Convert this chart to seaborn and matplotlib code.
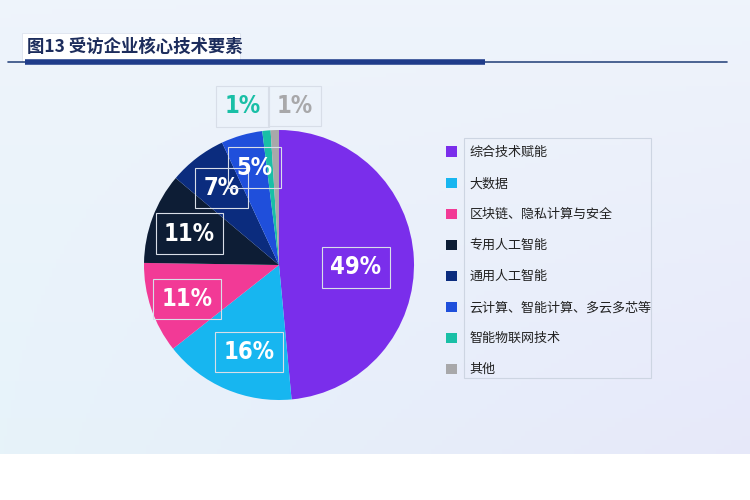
import numpy as np
import matplotlib
matplotlib.use("Agg")
import matplotlib.pyplot as plt
import matplotlib.patches as mpatches
import seaborn as sns

sns.set_theme(style="white")
plt.rcParams['font.family'] = ['Noto Sans CJK SC', 'DejaVu Sans']

categories = ["综合技术赋能", "大数据", "区块链、隐私计算与安全", "专用人工智能",
              "通用人工智能", "云计算、智能计算、多云多芯等", "智能物联网技术", "其他"]
values = [49, 16, 11, 11, 7, 5, 1, 1]
labels = ["49%", "16%", "11%", "11%", "7%", "5%", "1%", "1%"]
colors = ["#7A2EEB", "#17B6F0", "#F23A96", "#0D1D35", "#0B2C7E", "#1F4FDB", "#19BFA6", "#A8A8AA"]
title = "图13 受访企业核心技术要素"

W, H = 750, 500
fig = plt.figure(figsize=(7.5, 5), dpi=100)
fig.patch.set_facecolor("white")

# background gradient
bg = fig.add_axes([0, 46 / H, 1, 1 - 46 / H], zorder=-10)
nx, ny = 200, 100
xx = np.linspace(0, 1, nx)[None, :]
yy = np.linspace(0, 1, ny)[:, None]
top = np.array([0.935, 0.957, 0.985])
botl = np.array([0.905, 0.953, 0.980])
botr = np.array([0.905, 0.912, 0.980])
bot = botl[None, None, :] * (1 - xx[..., None]) + botr[None, None, :] * xx[..., None]
img = top[None, None, :] * (1 - yy[..., None]) + bot * yy[..., None]
bg.imshow(img, aspect="auto", extent=[0, 1, 0, 1])
bg.set_axis_off()

# title box and lines
fig.add_artist(mpatches.Rectangle((22 / W, 1 - 62 / H), 218 / W, 29 / H,
                                  transform=fig.transFigure, facecolor="white",
                                  edgecolor="#DDE3EE", lw=0.6, zorder=1))
fig.text(27 / W, 1 - 47 / H, title, fontsize=12.5, fontweight="bold",
         color="#1C2C5C", va="center", ha="left", zorder=2)
fig.add_artist(plt.Line2D([8 / W, 727 / W], [1 - 62 / H, 1 - 62 / H],
                          transform=fig.transFigure, color="#2F4A80", lw=1.2, zorder=1))
fig.add_artist(plt.Line2D([25 / W, 485 / W], [1 - 62 / H, 1 - 62 / H],
                          transform=fig.transFigure, color="#1F3C8A", lw=4, zorder=2,
                          solid_capstyle="butt"))

# pie
cx, cy, r = 279, 265, 135
ax = fig.add_axes([(cx - r) / W, (H - cy - r) / H, 2 * r / W, 2 * r / H])
wedges, _ = ax.pie(values, colors=colors, startangle=90, counterclock=False,
                   radius=1, wedgeprops=dict(linewidth=0))
ax.set_xlim(-1, 1)
ax.set_ylim(-1, 1)
ax.set_axis_off()

num_family = ["Liberation Sans Narrow", "DejaVu Sans"]
dist = [0.57, 0.67, 0.72, 0.72, 0.72, 0.76, 1.19, 1.19]
dx = [0, 0.04, 0, 0.01, 0.01, 0.03, -0.16, 0.15]
dy = [-0.045, -0.03, -0.02, -0.02, 0, -0.01, -0.01, -0.01]
box = dict(boxstyle="square,pad=0.35", facecolor="none", edgecolor="#D8DEE8", lw=0.8)
for i, (w, lab) in enumerate(zip(wedges, labels)):
    ang = np.deg2rad((w.theta1 + w.theta2) / 2)
    x, y = dist[i] * np.cos(ang) + dx[i], dist[i] * np.sin(ang) + dy[i]
    col = "white" if i < 6 else colors[i]
    ax.text(x, y, lab, fontsize=17, fontweight="bold", color=col, ha="center", va="center",
            family=num_family, fontstretch="condensed", bbox=box, clip_on=False)

# legend
fig.add_artist(mpatches.Rectangle((464 / W, 1 - 378 / H), 187 / W, 240 / H,
                                  transform=fig.transFigure, facecolor="none",
                                  edgecolor="#CDD5E2", lw=0.8))
handles = [mpatches.Patch(facecolor=c, edgecolor="none") for c in colors]
leg = fig.legend(handles, categories, loc="upper left",
                 bbox_to_anchor=(441 / W, 1 - 141 / H), frameon=False,
                 fontsize=9.4, handlelength=0.85, handleheight=0.85,
                 handletextpad=0.95, labelspacing=1.38, borderaxespad=0)
for t in leg.get_texts():
    t.set_color("#222222")

fig.savefig("out.png", dpi=100, facecolor=fig.get_facecolor())
